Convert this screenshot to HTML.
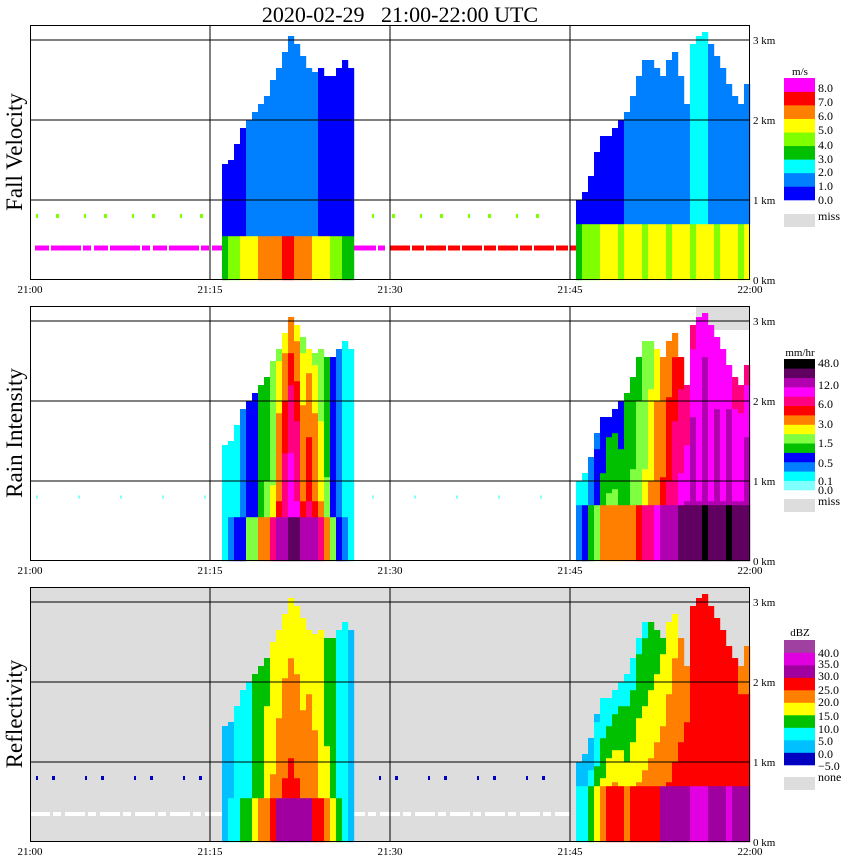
<!DOCTYPE html>
<html><head><meta charset="utf-8"><style>
html,body{margin:0;padding:0;background:#fff;}
svg{display:block;font-family:"Liberation Serif",serif;}
</style></head><body>
<svg id="chart" width="850" height="868" viewBox="0 0 850 868">
<text x="400" y="22" font-size="22" text-anchor="middle" xml:space="preserve" style="white-space:pre">2020-02-29   21:00-22:00 UTC</text>
<g id="panels"></g>
</svg>
<script>
// ---- data (time bins of 0.5 min; storm start indices) ----
const s1Start = 32;
const tops1 = [1.45,1.5,1.7,1.9,2.0,2.1,2.2,2.3,2.45,2.6,2.8,3.0,2.9,2.75,2.6,2.55,2.6,2.5,2.5,2.6,2.7,2.6];
const dbzSfc1 = [3,6,8,10,13,16,20,23,27,30,32,33,32,30,31,29,26,22,17,10,6,3];
const dbzTop1 = [0,3,5,6,9,11,12,14,15,16,17,17,17,16,17,16,15,13,11,8,5,2];
const rainSfc1 = [0.2,0.3,0.5,0.8,1.5,2,3,4,6,12,20,30,24,12,16,12,8,4,2,0.8,0.3,0.2];
const rainTop1 = [0.1,0.15,0.2,0.3,0.5,0.7,1,1.2,1.5,2,2.5,3,2.5,2,2.5,2,1.5,1.2,0.8,0.4,0.2,0.1];
const velLow1 = [3,4,4,5,5,5,6,6,6,6.5,7,7,6.5,6,6,5.5,5,5,4.5,4,3.5,3];
const velHigh1 = [0.5,0.6,0.8,0.9,1.0,1.1,1.2,1.3,1.3,1.2,1.3,1.1,1.2,1.3,1.1,1.0,0.9,0.9,0.8,0.7,0.6,0.5];
const melt1 = 0.5;
const s2Start = 91;
const tops2 = [1.0,1.1,1.3,1.6,1.8,1.8,1.9,2.0,2.1,2.3,2.5,2.7,2.7,2.6,2.5,2.7,2.8,2.5,2.2,2.9,3.0,3.05,2.9,2.75,2.6,2.4,2.3,2.2,2.4];
const dbzSfc2 = [5,8,12,18,22,25,26,25,23,25,26,27,28,29,30,31,32,33,34,35,35,35,34,34,34,35,34,34,33];
const dbzTop2 = [0,2,3,4,5,5,6,7,7,7,9,9,10,12,14,16,18,20,22,25,26,26,25,25,25,25,25,24,24];
const rainSfc2 = [0.3,0.5,1,2,3,4,4,3,3,4,5,6,8,10,12,16,20,25,30,40,30,48,30,40,30,48,30,30,40];
const rainTop2 = [0.1,0.2,0.3,0.4,0.6,0.8,0.8,0.8,1,1.2,1.3,1.5,1.8,2.5,3,3.5,4,5,6,8,9,10,9,9,9,9,8,8,8];
const velLow2 = [3,4,4,4.5,5,5.5,5,4.5,5,5.5,5,4.5,5,5.5,5,4.5,5,5.5,5,4.5,5,5.5,5,4.5,5,5.5,5,4.5,5];
const velHigh2 = [0.3,0.4,0.5,0.6,0.7,0.8,0.8,0.9,1.0,1.1,1.2,1.2,1.3,1.4,1.5,1.6,1.7,1.8,1.9,2.1,2.1,2.0,1.9,1.9,1.8,1.8,1.8,1.7,1.7];
const melt2 = 0.7;
const timeLabels = ["21:00","21:15","21:30","21:45","22:00"];
const kmLabels = ["0 km","1 km","2 km","3 km"];
const velBounds = [0,1,2,3,4,5,6,7,8];
const velColors = ["#0000ff","#0080ff","#00ffff","#00c000","#80ff00","#ffff00","#ff8000","#ff0000","#ff00ff"];
const velLabels = ["8.0","7.0","6.0","5.0","4.0","3.0","2.0","1.0","0.0"];
const rainBounds = [0,0.1,0.3,0.5,1.0,1.5,2.2,3.0,4.5,6.0,9,12,24,48];
const rainColors = ["#80ffff","#00ffff","#0080ff","#0000ff","#00c000","#80ff40","#ffff00","#ff8000","#ff0000","#ff0080","#ff00ff","#b000b0","#600060","#000000"];
const dbzBounds = [-5,0,5,10,15,20,25,30,35,40];
const dbzColors = ["#0000c0","#00c0ff","#00ffff","#00c000","#ffff00","#ff8000","#ff0000","#a000a0","#e000e0","#a040a0"];

const NS = "http://www.w3.org/2000/svg";
const root = document.getElementById('panels');
const X0 = 30, X1 = 750, PXKM = 80;
const xOfMin = m => X0 + (X1 - X0) * m / 60;
function mk(tag, attrs, parent){const e=document.createElementNS(NS,tag);for(const k in attrs)e.setAttribute(k,attrs[k]);(parent||root).appendChild(e);return e;}
function colorFor(v, bounds, colors){let c=null;for(let k=0;k<bounds.length;k++){if(v>=bounds[k])c=colors[k];}return c;}
function profile(a, b, z, t, m, drop, ratio){
  if(z < m) return a;
  const f = (z - m) / Math.max(t - m, 0.1);
  const start = ratio ? a*ratio : a - drop;
  return Math.max(b, start + (b - start) * f);
}

const panels = [
 {name:'fall-velocity', title:'Fall Velocity', top:25, bg:'#ffffff', bounds:velBounds, colors:velColors,
  val:(s,j,z)=> z < (s===1?melt1:melt2) ? (s===1?velLow1:velLow2)[j] : (s===1?velHigh1:velHigh2)[j]},
 {name:'rain-intensity', title:'Rain Intensity', top:306, bg:'#ffffff', bounds:rainBounds, colors:rainColors,
  val:(s,j,z)=>{const t=(s===1?tops1:tops2)[j];const a=(s===1?rainSfc1:rainSfc2)[j],b=(s===1?rainTop1:rainTop2)[j];
   return profile(a,b,z,t,s===1?melt1:melt2,0,0.4);}},
 {name:'reflectivity', title:'Reflectivity', top:587, bg:'#dddddd', bounds:dbzBounds, colors:dbzColors,
  val:(s,j,z)=>{const t=(s===1?tops1:tops2)[j];const a=(s===1?dbzSfc1:dbzSfc2)[j],b=(s===1?dbzTop1:dbzTop2)[j];
   return profile(a,b,z,t,s===1?melt1:melt2,6,0);}}
];

panels.forEach((p,pi)=>{
  const g = mk('g',{});
  
  
  const y0 = p.top + 255;
  const yOf = km => y0 - km*PXKM;
  const bg = mk('rect',{x:X0,y:p.top,width:X1-X0,height:255,fill:p.bg},g);
  
  
  if(pi===1){ const miss = mk('rect',{x:xOfMin(55.5),y:p.top,width:X1-xOfMin(55.5),height:24,fill:'#dddddd'},g);
    
     }
  if(pi===0){
    const l1 = mk('line',{x1:35,y1:yOf(0.4),x2:385,y2:yOf(0.4),stroke:'#ff00ff','stroke-width':5,'stroke-dasharray':'14 2 30 2 8 3'},g);
     
    const l2 = mk('line',{x1:390,y1:yOf(0.4),x2:578,y2:yOf(0.4),stroke:'#ff0000','stroke-width':5,'stroke-dasharray':'20 2 12 2'},g);
     
    const l3 = mk('line',{x1:36,y1:yOf(0.8),x2:560,y2:yOf(0.8),stroke:'#80ff00','stroke-width':4,'stroke-dasharray':'2 18 3 25'},g);
     
  } else if(pi===1){
    const l3 = mk('line',{x1:36,y1:yOf(0.8),x2:560,y2:yOf(0.8),stroke:'#80ffff','stroke-width':3,'stroke-dasharray':'2 40'},g);
     
  } else {
    const l1 = mk('line',{x1:30,y1:yOf(0.35),x2:570,y2:yOf(0.35),stroke:'#ffffff','stroke-width':4,'stroke-dasharray':'20 3 8 4'},g);
     
    const l3 = mk('line',{x1:36,y1:yOf(0.8),x2:560,y2:yOf(0.8),stroke:'#0000c0','stroke-width':4,'stroke-dasharray':'2 14 3 30'},g);
     
  }
  [[1,s1Start,tops1],[2,s2Start,tops2]].forEach(([s,start,tops])=>{
    tops.forEach((t,j)=>{
      const x = xOfMin((start+j)/2);
      for(let z=0; z<t; z+=0.05){
        const c = colorFor(p.val(s,j,z), p.bounds, p.colors);
        if(!c) continue;
        const r = mk('rect',{x:x,y:yOf(z+0.05),width:6.2,height:4.2,fill:c},g);
        
        
      }
    });
  });
  [1,2,3].forEach(k=>{ const l=mk('line',{x1:X0,y1:yOf(k),x2:X1,y2:yOf(k),stroke:'#000','stroke-width':1},g);
      });
  [15,30,45].forEach(m=>{ const l=mk('line',{x1:xOfMin(m),y1:p.top,x2:xOfMin(m),y2:y0,stroke:'#000','stroke-width':1},g);
      });
  const fr = mk('rect',{x:X0+0.5,y:p.top+0.5,width:X1-X0-1,height:254,fill:'none',stroke:'#000','stroke-width':1},g);
   
  kmLabels.forEach((lb,k)=>{ const t=mk('text',{x:753,y:yOf(k)+4,'font-size':11},g); t.textContent=lb;
      });
  timeLabels.forEach((lb,k)=>{ const t=mk('text',{x:xOfMin(k*15),y:y0+13,'font-size':11,'text-anchor':'middle'},g); t.textContent=lb;
      });
  const yt = mk('text',{x:0,y:0,'font-size':23,'text-anchor':'middle',transform:`translate(22 ${p.top+127}) rotate(-90)`},g);
  yt.textContent = p.title;
   
});

function legend(name, unit, unitY, colors, topY, botY, labels, labelYs, missLabel, missY, missTop){
  const g = mk('g',{});
  
  
  const u = mk('text',{x:800,y:unitY,'font-size':11,'text-anchor':'middle'},g); u.textContent=unit;
   
  const h=(botY-topY)/colors.length;
  colors.forEach((c,k)=>{ const r=mk('rect',{x:784,y:botY-(k+1)*h,width:31,height:h+0.3,fill:c},g);
      });
  labels.forEach((lb,k)=>{ const t=mk('text',{x:818,y:labelYs[k]+4,'font-size':12},g); t.textContent=lb;
      });
  const mr=mk('rect',{x:784,y:missTop,width:31,height:13,fill:'#dddddd'},g);
   
  const mt=mk('text',{x:818,y:missY+4,'font-size':12},g); mt.textContent=missLabel;
   
}
legend('velocity-legend','m/s',75,velColors,78,200,velLabels,[88,102,116,130,145,159,172,186,200],'miss',216,214);
legend('rain-legend','mm/hr',356,rainColors,359,490,["48.0","12.0","6.0","3.0","1.5","0.5","0.1","0.0"],[363,385,404,424,443,463,481,490],'miss',501,499);
legend('dbz-legend','dBZ',636,dbzColors,640,765,["40.0","35.0","30.0","25.0","20.0","15.0","10.0","5.0","0.0","\u22125.0"],[653,664,676,690,702,716,729,741,754,766],'none',777,777);
</script>
</body></html>
